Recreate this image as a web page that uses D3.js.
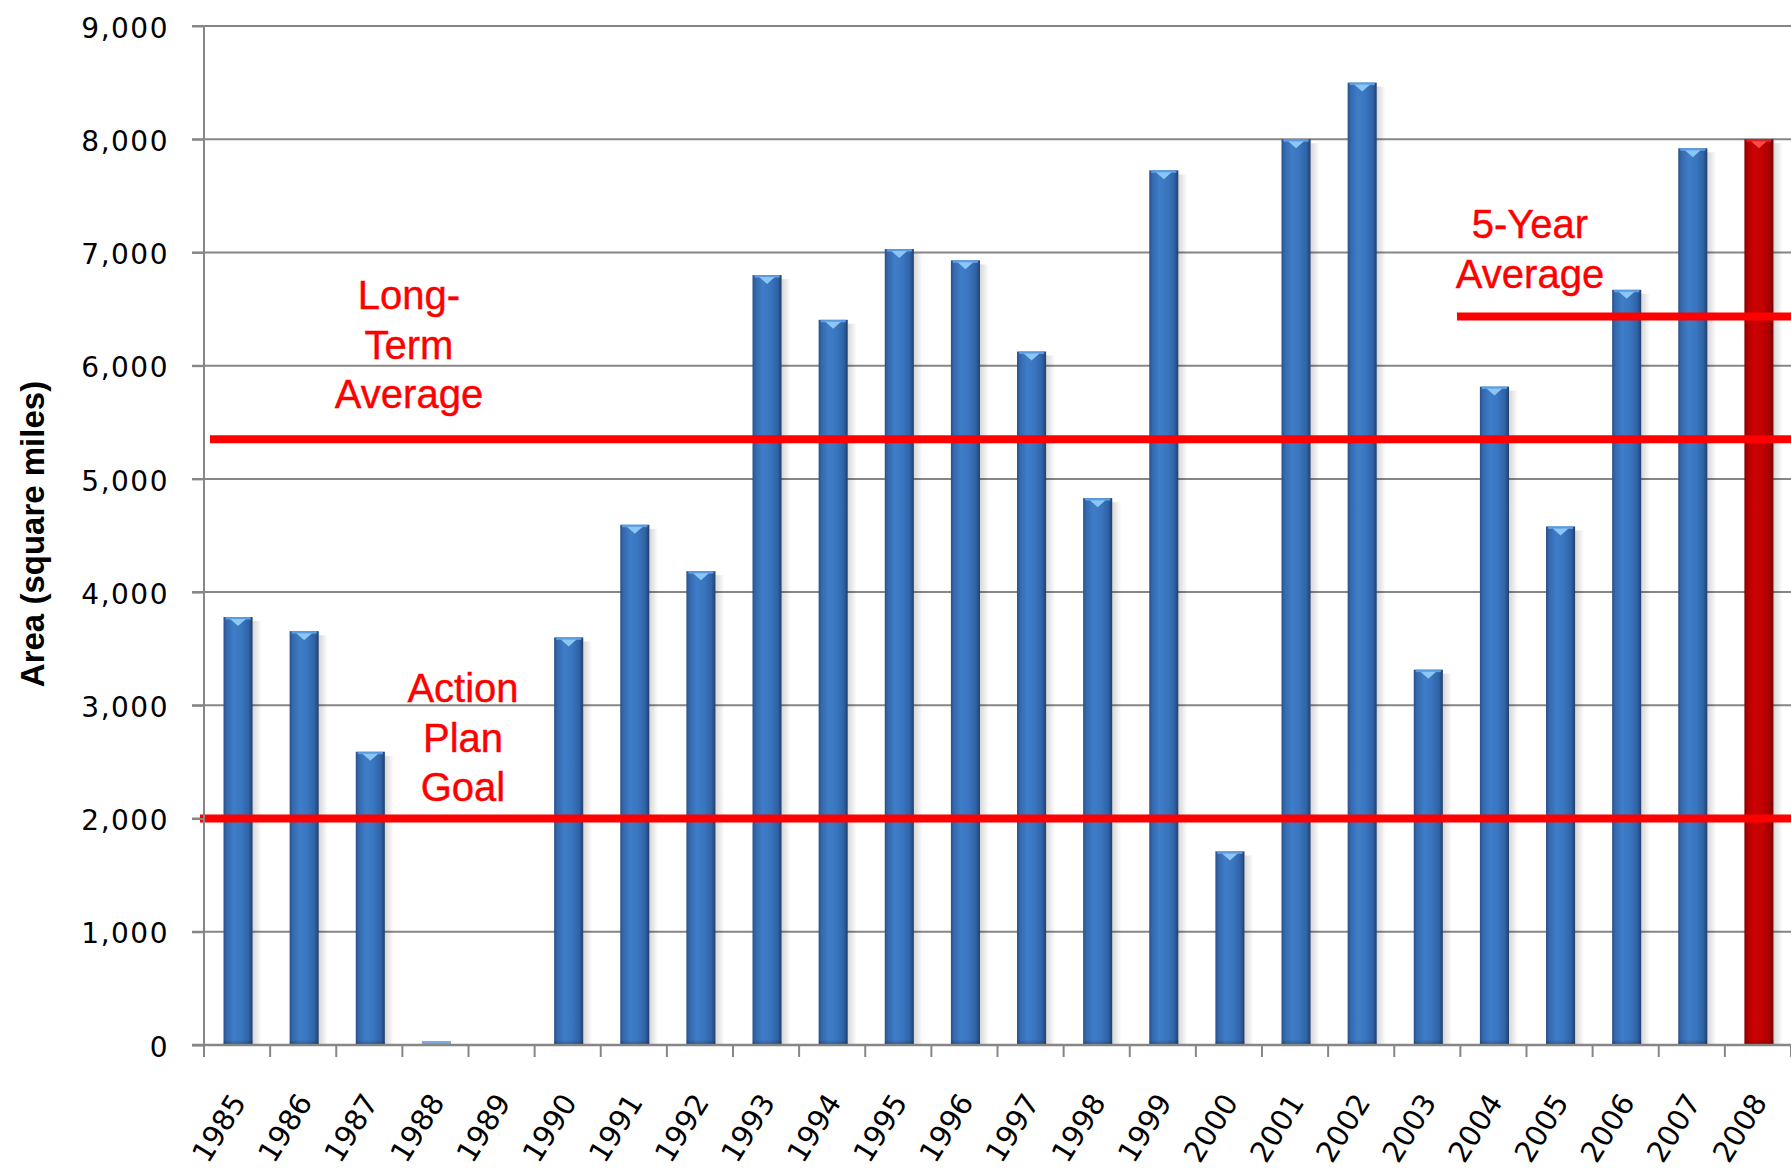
<!DOCTYPE html>
<html><head><meta charset="utf-8">
<script src="https://cdn.jsdelivr.net/npm/d3@7"></script>
<style>body{margin:0;background:#fff;overflow:hidden}</style>
</head><body>
<svg id="chart" width="1791" height="1170"></svg>
<script>
// ---- data ----
const years = ["1985","1986","1987","1988","1989","1990","1991","1992","1993","1994","1995","1996",
               "1997","1998","1999","2000","2001","2002","2003","2004","2005","2006","2007","2008"];
const areaValues = [3780, 3655, 2590, 35, 0, 3600, 4595, 4185, 6800, 6405, 7030, 6930,
                    6125, 4830, 7725, 1710, 8000, 8500, 3315, 5815, 4580, 6670, 7920, 8000];
const highlightYear = "2008";
const yTickValues = [0,1000,2000,3000,4000,5000,6000,7000,8000,9000];
const refLineValues = [5350, 2000, 6435];
const refLineLabels = [["Long-","Term","Average"],["Action","Plan","Goal"],["5-Year","Average"]];
const yAxisTitle = "Area (square miles)";

(function(){
// ---- layout ----
const plotL = 204, plotR = 1791, plotT = 26, plotB = 1045;
const svg = d3.select("#chart");

const x = d3.scaleBand().domain(years).range([plotL, plotR]).padding(0);
const y = d3.scaleLinear().domain([0, 9000]).range([plotB, plotT]);
const barW = x.bandwidth() * 0.44;

const defs = svg.append("defs");
function hGrad(id, stops){
  const g = defs.append("linearGradient").attr("id", id).attr("x1","0%").attr("x2","100%").attr("y1","0%").attr("y2","0%");
  stops.forEach(s => g.append("stop").attr("offset", s[0]).attr("stop-color", s[1]).attr("stop-opacity", s[2] == null ? 1 : s[2]));
}
hGrad("blueGrad", [["0%","#284f86"],["10%","#3468ad"],["35%","#3f7dc8"],["60%","#3a76c0"],["86%","#2f63a6"],["100%","#223f6c"]]);
hGrad("redGrad",  [["0%","#860000"],["10%","#b40000"],["35%","#cc0202"],["60%","#c40000"],["86%","#a80000"],["100%","#6e0000"]]);
hGrad("shadowGrad", [["0%","#000",0.16],["100%","#000",0]]);
const vg = defs.append("linearGradient").attr("id","bottomGrad").attr("x1","0%").attr("x2","0%").attr("y1","0%").attr("y2","100%");
vg.append("stop").attr("offset","0%").attr("stop-color","#000").attr("stop-opacity",0);
vg.append("stop").attr("offset","100%").attr("stop-color","#000").attr("stop-opacity",0.3);

// ---- gridlines ----
svg.append("g").selectAll("line").data(yTickValues).join("line")
  .attr("x1", plotL - 12).attr("x2", plotR)
  .attr("y1", d => y(d)).attr("y2", d => y(d))
  .attr("stroke", "#868686").attr("stroke-width", 2);

// ---- bars ----
const data = years.map((yr, i) => ({year: yr, value: areaValues[i]})).filter(d => d.value > 0);
const bars = svg.append("g").selectAll("g").data(data).join("g");
const bx = d => x(d.year) + (x.bandwidth() - barW) / 2 + 1;

bars.append("rect")
  .attr("x", d => bx(d) + barW).attr("y", d => y(d.value) + 4)
  .attr("width", 9).attr("height", d => Math.max(0, plotB - y(d.value) - 4))
  .attr("fill", "url(#shadowGrad)");

bars.append("rect")
  .attr("x", bx).attr("y", d => y(d.value))
  .attr("width", barW).attr("height", d => plotB - y(d.value))
  .attr("fill", d => {
    if (plotB - y(d.value) < 10) return "#7fa8da";
    return d.year === highlightYear ? "url(#redGrad)" : "url(#blueGrad)";
  });

const tall = bars.filter(d => plotB - y(d.value) >= 10);
tall.append("rect")
  .attr("x", bx).attr("y", d => plotB - 5)
  .attr("width", barW).attr("height", 5)
  .attr("fill", "url(#bottomGrad)");
tall.append("rect")
  .attr("x", d => bx(d) + 2).attr("y", d => y(d.value))
  .attr("width", barW - 4).attr("height", 2.5)
  .attr("fill", d => d.year === highlightYear ? "#e02020" : "#5b9be2");
tall.append("path")
  .attr("d", d => {
    const cx = bx(d) + barW / 2, t = y(d.value) + 2;
    return `M${cx - barW*0.27},${t} L${cx + barW*0.27},${t} L${cx},${t + 7} Z`;
  })
  .attr("fill", d => d.year === highlightYear ? "#ff4a4a" : "#8cc6f4");

// ---- reference lines ----
const refStarts = [210, 200, 1457];
svg.append("g").selectAll("line").data(refLineValues).join("line")
  .attr("x1", (d, i) => refStarts[i]).attr("x2", plotR)
  .attr("y1", d => y(d)).attr("y2", d => y(d))
  .attr("stroke", "#ff0000").attr("stroke-width", 8);

// ---- annotation texts ----
const labelPos = [{cx: 409, b: 309}, {cx: 463, b: 702}, {cx: 1530, b: 238}];
refLineLabels.forEach((lines, i) => {
  const t = svg.append("text")
    .attr("text-anchor", "middle")
    .attr("font-family", "'Liberation Sans', Arial, sans-serif")
    .attr("font-size", 40).attr("fill", "#ff0000")
    .attr("stroke", "#ff0000").attr("stroke-width", 0.4);
  lines.forEach((ln, j) => {
    t.append("tspan").attr("x", labelPos[i].cx).attr("y", labelPos[i].b + j * 49.5).text(ln);
  });
});

// ---- y axis ----
const yAxis = d3.axisLeft(y).tickValues(yTickValues).tickFormat(d3.format(",")).tickSize(12).tickPadding(23).tickSizeOuter(0);
const ya = svg.append("g").attr("transform", `translate(${plotL},0)`).call(yAxis);
ya.select(".domain").remove();
ya.selectAll(".tick line").attr("stroke", "#868686").attr("stroke-width", 2);
ya.selectAll(".tick text")
  .attr("font-family", "'DejaVu Sans', Verdana, sans-serif")
  .attr("font-size", 28).attr("letter-spacing", 1.5).attr("fill", "#000")
  .attr("dy", "0.40em");
svg.append("line").attr("x1", plotL).attr("x2", plotL).attr("y1", y(9000) - 1).attr("y2", plotB + 12)
  .attr("stroke", "#868686").attr("stroke-width", 2);

// ---- x axis ----
svg.append("line").attr("x1", plotL - 12).attr("x2", plotR).attr("y1", plotB).attr("y2", plotB)
  .attr("stroke", "#868686").attr("stroke-width", 2.5);
const boundaries = d3.range(years.length + 1).map(i => plotL + i * x.step());
svg.append("g").selectAll("line").data(boundaries).join("line")
  .attr("x1", d => d).attr("x2", d => d).attr("y1", plotB).attr("y2", plotB + 12)
  .attr("stroke", "#868686").attr("stroke-width", 2);

svg.append("g").selectAll("text").data(years).join("text")
  .attr("transform", d => `translate(${x(d) + x.bandwidth()/2 + 10},${plotB + 57}) rotate(-58)`)
  .attr("text-anchor", "end")
  .attr("font-family", "'DejaVu Sans', Verdana, sans-serif")
  .attr("font-size", 29).attr("fill", "#000")
  .text(d => d);

// ---- y axis title ----
svg.append("text")
  .attr("transform", `translate(44,534) rotate(-90)`)
  .attr("text-anchor", "middle")
  .attr("font-family", "'Liberation Sans', Arial, sans-serif")
  .attr("font-weight", "bold").attr("font-size", 33).attr("fill", "#000")
  .text(yAxisTitle);
})();
</script>
</body></html>
